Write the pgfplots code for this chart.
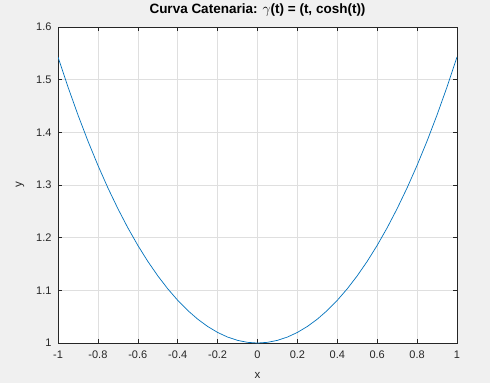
\documentclass[border=0pt]{standalone}
\usepackage{pgfplots}
\pgfplotsset{compat=1.18}
\usepackage{fontspec}
\setmainfont{Liberation Sans}
\definecolor{bg}{RGB}{240,240,240}
\definecolor{mblue}{RGB}{0,114,189}
\definecolor{axc}{RGB}{38,38,38}
\begin{document}
\begin{tikzpicture}[x=1pt,y=1pt]
\fill[bg] (0,0) rectangle (490,383);
\begin{axis}[
  at={(58pt,40pt)}, anchor=south west,
  scale only axis, width=399pt, height=316pt,
  xmin=-1, xmax=1, ymin=1, ymax=1.6,
  xtick={-1,-0.8,...,1.01}, ytick={1,1.1,...,1.61},
  axis background/.style={fill=white},
  axis line style={axc, line width=0.6pt},
  tick style={axc, line width=0.6pt},
  major tick length=4pt,
  tick align=inside,
  grid=major,
  major grid style={gray!25, line width=0.5pt},
  /pgf/number format/assume math mode=true,
  /pgf/number format/fixed,
  /pgf/number format/precision=1,
  ticklabel style={font=\fontsize{11}{13}\selectfont, text=axc},
  xticklabel style={yshift=-4pt},
  yticklabel style={xshift=-3pt},
  title={\textbf{Curva Catenaria: $\gamma$(t) = (t, cosh(t))}},
  title style={font=\fontsize{13.5}{15}\selectfont, at={(axis description cs:0.5,1)}, anchor=center, yshift=11pt},
  xlabel={x}, ylabel={y},
  label style={font=\fontsize{11.5}{13}\selectfont, text=axc},
  xlabel style={at={(axis description cs:0.5,0)}, anchor=center, yshift=-32pt},
  ylabel style={at={(axis description cs:0,0.5)}, anchor=center, yshift=38pt},
]
\addplot[mblue, line width=0.7pt] coordinates {
(-1.00,1.543081)(-0.95,1.486225)(-0.90,1.433086)(-0.85,1.383531)(-0.80,1.337435)
(-0.75,1.294683)(-0.70,1.255169)(-0.65,1.218793)(-0.60,1.185465)(-0.55,1.155101)
(-0.50,1.127626)(-0.45,1.102970)(-0.40,1.081072)(-0.35,1.061878)(-0.30,1.045339)
(-0.25,1.031413)(-0.20,1.020067)(-0.15,1.011271)(-0.10,1.005004)(-0.05,1.001250)
(0.00,1.000000)
(0.05,1.001250)(0.10,1.005004)(0.15,1.011271)(0.20,1.020067)(0.25,1.031413)
(0.30,1.045339)(0.35,1.061878)(0.40,1.081072)(0.45,1.102970)(0.50,1.127626)
(0.55,1.155101)(0.60,1.185465)(0.65,1.218793)(0.70,1.255169)(0.75,1.294683)
(0.80,1.337435)(0.85,1.383531)(0.90,1.433086)(0.95,1.486225)(1.00,1.543081)
};
\end{axis}
\end{tikzpicture}
\end{document}
